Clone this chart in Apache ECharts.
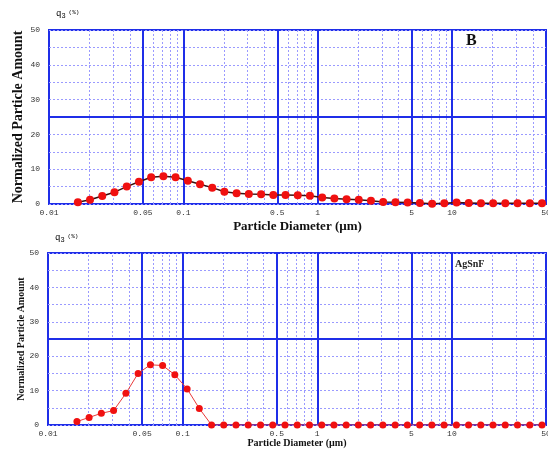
<!DOCTYPE html>
<html>
<head>
<meta charset="utf-8">
<script src="https://cdn.jsdelivr.net/npm/echarts@6/dist/echarts.min.js"></script>
<style>
  html, body { margin: 0; padding: 0; background: #fff; }
  #chart { width: 548px; height: 452px; }
</style>
</head>
<body>
<div id="chart"></div>
<script>
// size classes (µm)
var diameters = [0.0164, 0.0202, 0.0249, 0.0307, 0.0379, 0.0467, 0.0576, 0.0710, 0.0875,
  0.108, 0.133, 0.164, 0.202, 0.249, 0.307, 0.379, 0.467, 0.576, 0.710, 0.875,
  1.08, 1.33, 1.64, 2.02, 2.49, 3.07, 3.79, 4.67, 5.76, 7.10, 8.75,
  10.8, 13.3, 16.4, 20.2, 24.9, 30.7, 37.9, 46.7];

// q3 (%) for sample B (top) and AgSnF (bottom)
var sampleB = [0.5, 1.2, 2.3, 3.4, 5.0, 6.4, 7.7, 8.0, 7.7,
  6.7, 5.7, 4.7, 3.5, 3.1, 2.9, 2.8, 2.6, 2.6, 2.5, 2.4,
  1.9, 1.6, 1.4, 1.2, 0.9, 0.6, 0.5, 0.4, 0.3, 0.1, 0.2,
  0.4, 0.3, 0.2, 0.2, 0.2, 0.2, 0.2, 0.2];
var sampleAgSnF = [1.0, 2.2, 3.4, 4.2, 9.2, 15.0, 17.5, 17.3, 14.6,
  10.5, 4.8, 0, 0, 0, 0, 0, 0, 0, 0, 0,
  0, 0, 0, 0, 0, 0, 0, 0, 0, 0, 0,
  0, 0, 0, 0, 0, 0, 0, 0];

var xTickLabels = [0.01, 0.05, 0.1, 0.5, 1, 5, 10, 50];
var xMajorLines = [0.05, 0.1, 0.5, 1, 5, 10];
var xMinorLines = [0.02, 0.03, 0.04, 0.06, 0.07, 0.08, 0.09, 0.2, 0.3, 0.4, 0.6, 0.7, 0.8, 0.9,
  2, 3, 4, 6, 7, 8, 9, 20, 30, 40];
var yMajorLines = [25];

var BLUE = '#1f2ee8';
var MINOR = '#9a9aff';
var MONO = '"Liberation Mono", "DejaVu Sans Mono", monospace';
var SERIF = '"Liberation Serif", "DejaVu Serif", serif';

function pairs(vals) {
  return diameters.map(function (d, i) { return [d, vals[i]]; });
}

function gridLines() {
  var out = [];
  xMinorLines.forEach(function (v) {
    out.push({ xAxis: v, lineStyle: { color: MINOR, type: [2, 2], width: 1 } });
  });
  xMajorLines.forEach(function (v) {
    out.push({ xAxis: v, lineStyle: { color: BLUE, type: 'solid', width: 2 } });
  });
  yMajorLines.forEach(function (v) {
    out.push({ yAxis: v, lineStyle: { color: BLUE, type: 'solid', width: 2 } });
  });
  return out;
}

function xAxisCfg(idx, nameSize, nameGap) {
  return {
    type: 'log', logBase: 10, gridIndex: idx, min: 0.01, max: 50,
    name: 'Particle Diameter (µm)', nameLocation: 'middle', nameGap: nameGap,
    nameTextStyle: { fontFamily: SERIF, fontWeight: 'bold', fontSize: nameSize, color: '#111' },
    axisLine: { show: false }, axisTick: { show: false }, splitLine: { show: false },
    axisLabel: {
      customValues: xTickLabels, margin: 5, fontFamily: MONO, fontSize: 8, color: '#333',
      formatter: function (v) { return String(+v.toPrecision(3)); }
    }
  };
}

function yAxisCfg(idx, nameSize, nameGap) {
  return {
    type: 'value', gridIndex: idx, min: 0, max: 50, interval: 5,
    name: 'Normalized Particle Amount', nameLocation: 'middle', nameGap: nameGap,
    nameMoveOverlap: false,
    nameTextStyle: { fontFamily: SERIF, fontWeight: 'bold', fontSize: nameSize, color: '#111' },
    axisLine: { show: false }, axisTick: { show: false },
    splitLine: { show: true, lineStyle: { color: MINOR, type: [2, 2], width: 1 } },
    axisLabel: {
      margin: 9, fontFamily: MONO, fontSize: 8, color: '#333',
      formatter: function (v) { return v % 10 === 0 ? String(v) : ''; }
    }
  };
}

var q3Rich = {
  q: { fontFamily: MONO, fontSize: 9, color: '#333' },
  sub: { fontFamily: MONO, fontSize: 7, color: '#333', padding: [5, 0, 0, 0] },
  pc: { fontFamily: MONO, fontSize: 6, color: '#333', padding: [0, 0, 3, 3] }
};

var chart = echarts.init(document.getElementById('chart'));
chart.setOption({
  animation: false,
  backgroundColor: '#fff',
  grid: [
    { left: 49, right: 2, top: 30, height: 174, outerBoundsMode: 'none', containLabel: false,
      show: true, borderColor: BLUE, borderWidth: 2, backgroundColor: '#fff' },
    { left: 48, right: 2, top: 253, height: 172, outerBoundsMode: 'none', containLabel: false,
      show: true, borderColor: BLUE, borderWidth: 2, backgroundColor: '#fff' }
  ],
  xAxis: [xAxisCfg(0, 13, 16), xAxisCfg(1, 10, 13)],
  yAxis: [yAxisCfg(0, 14, 24), yAxisCfg(1, 10, 22)],
  graphic: [
    { type: 'text', left: 56, top: 9, style: { text: '{q|q}{sub|3}{pc|(%)}', rich: q3Rich } },
    { type: 'text', left: 55, top: 233, style: { text: '{q|q}{sub|3}{pc|(%)}', rich: q3Rich } },
    { type: 'text', left: 466, top: 33, style: { text: 'B', fontFamily: SERIF, fontWeight: 'bold', fontSize: 16, fill: '#111' } },
    { type: 'text', left: 455, top: 259, style: { text: 'AgSnF', fontFamily: SERIF, fontWeight: 'bold', fontSize: 10, fill: '#222' } }
  ],
  series: [
    {
      name: 'B', type: 'line', xAxisIndex: 0, yAxisIndex: 0, z: 3,
      data: pairs(sampleB),
      symbol: 'circle', symbolSize: 8,
      lineStyle: { color: '#3a1010', width: 1.5 },
      itemStyle: { color: '#f01010' },
      markLine: { silent: true, symbol: 'none', z: 1, label: { show: false }, data: gridLines() }
    },
    {
      name: 'AgSnF', type: 'line', xAxisIndex: 1, yAxisIndex: 1, z: 3,
      data: pairs(sampleAgSnF),
      symbol: 'circle', symbolSize: 7,
      lineStyle: { color: '#e83a3a', width: 1 },
      itemStyle: { color: '#f01010' },
      markLine: { silent: true, symbol: 'none', z: 1, label: { show: false }, data: gridLines() }
    }
  ]
});
</script>
</body>
</html>
